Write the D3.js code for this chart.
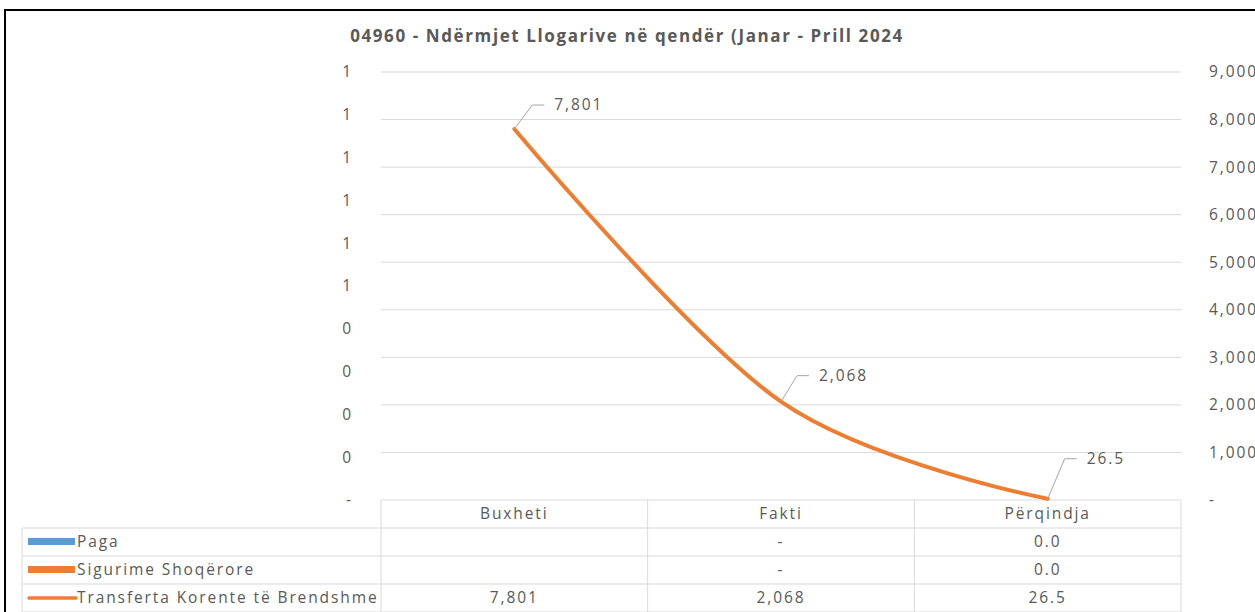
<!DOCTYPE html>
<html>
<head>
<meta charset="utf-8">
<script src="https://cdn.jsdelivr.net/npm/d3@7"></script>
<style>
  body { margin: 0; background: #fff; }
  svg text { font-family: "Open Sans", sans-serif; fill: #595959; }
</style>
</head>
<body>
<div id="chart"></div>
<script>
const title = '04960 - Ndërmjet Llogarive në qendër (Janar - Prill 2024'
const categories = ['Buxheti', 'Fakti', 'Përqindja']
const seriesNames = ['Paga', 'Sigurime Shoqërore', 'Transferta Korente të Brendshme']
const paga = [null, 0, 0.0]
const sigurime = [null, 0, 0.0]
const transferta = [7801, 2068, 26.5]
const tableText = [
    ['', '-', '0.0'],
    ['', '-', '0.0'],
    ['7,801', '2,068', '26.5']
]

const width = 1255
const height = 612
const plot = { left: 381, right: 1181, top: 72, bottom: 500 }
const rowH = 28
const tableLeft = 22
const blue = '#5B9BD5'
const orange = '#ED7D31'
const grid = '#D9D9D9'
const fs = 15.5
const ls = 1.9

const svg = d3.select('#chart')
    .append('svg')
    .attr('width', width)
    .attr('height', height)

// frame
svg.append('rect')
    .attr('x', 5).attr('y', 10)
    .attr('width', 1300).attr('height', 700)
    .attr('fill', 'none')
    .attr('stroke', '#000')
    .attr('stroke-width', 2)

svg.append('text')
    .attr('x', 627).attr('y', 42)
    .attr('text-anchor', 'middle')
    .attr('font-size', 17)
    .attr('letter-spacing', 1.6)
    .attr('font-weight', 'bold')
    .text(title)

// scales
const xScale = d3.scaleBand()
    .domain(categories)
    .range([plot.left, plot.right])
const yLeft = d3.scaleLinear().domain([0, 1]).range([plot.bottom, plot.top])
const yRight = d3.scaleLinear().domain([0, 9000]).range([plot.bottom, plot.top])

const dashZero = f => v => v === 0 ? '-' : f(v)

// gridlines
svg.append('g')
    .selectAll('line')
    .data(yRight.ticks(9).filter(d => d > 0))
    .enter()
    .append('line')
    .attr('x1', plot.left).attr('x2', plot.right)
    .attr('y1', d => yRight(d)).attr('y2', d => yRight(d))
    .attr('stroke', grid)

// left axis
const leftAxis = svg.append('g')
    .attr('transform', `translate(${plot.left - 25}, 0)`)
    .call(d3.axisLeft(yLeft).ticks(10).tickSize(0).tickFormat(dashZero(d3.format('.0f'))))
leftAxis.select('.domain').remove()
leftAxis.selectAll('text').attr('font-size', fs).attr('letter-spacing', ls)
    .attr('font-family', null).attr('fill', null)

// right axis
const rightAxis = svg.append('g')
    .attr('transform', `translate(${plot.right + 25}, 0)`)
    .call(d3.axisRight(yRight).ticks(9).tickSize(0).tickFormat(dashZero(d3.format(','))))
rightAxis.select('.domain').remove()
rightAxis.selectAll('text').attr('font-size', fs).attr('letter-spacing', ls)
    .attr('font-family', null).attr('fill', null)

// bars (primary axis, empty values)
const inner = d3.scaleBand().domain([0, 1]).range([0, xScale.bandwidth()]).padding(0.2)
;[paga, sigurime].forEach((vals, si) => {
    svg.append('g')
        .selectAll('rect')
        .data(vals)
        .enter()
        .append('rect')
        .attr('x', (d, i) => xScale(categories[i]) + inner(si))
        .attr('y', d => yLeft(d || 0))
        .attr('width', inner.bandwidth())
        .attr('height', d => plot.bottom - yLeft(d || 0))
        .attr('fill', si === 0 ? blue : orange)
})

// table grid
const tg = svg.append('g').attr('stroke', grid).attr('fill', 'none')
const colEdges = [plot.left].concat(categories.map(c => xScale(c) + xScale.bandwidth()))
tg.append('line')
    .attr('x1', plot.left).attr('x2', plot.right)
    .attr('y1', plot.bottom).attr('y2', plot.bottom)
for (let r = 1; r <= 4; r++) {
    tg.append('line')
        .attr('x1', tableLeft).attr('x2', plot.right)
        .attr('y1', plot.bottom + r * rowH).attr('y2', plot.bottom + r * rowH)
}
colEdges.forEach(x => {
    tg.append('line')
        .attr('x1', x).attr('x2', x)
        .attr('y1', plot.bottom).attr('y2', plot.bottom + 4 * rowH)
})
tg.append('line')
    .attr('x1', tableLeft).attr('x2', tableLeft)
    .attr('y1', plot.bottom + rowH).attr('y2', plot.bottom + 4 * rowH)

// header
svg.append('g')
    .selectAll('text')
    .data(categories)
    .enter()
    .append('text')
    .attr('x', d => xScale(d) + xScale.bandwidth() / 2)
    .attr('y', plot.bottom + rowH / 2 + 5)
    .attr('text-anchor', 'middle')
    .attr('font-size', fs)
    .attr('letter-spacing', ls)
    .text(d => d)

// rows
tableText.forEach((row, r) => {
    const cy = plot.bottom + rowH * (r + 1) + rowH / 2
    svg.append('g')
        .selectAll('text')
        .data(row)
        .enter()
        .append('text')
        .attr('x', (d, i) => xScale(categories[i]) + xScale.bandwidth() / 2)
        .attr('y', cy + 5)
        .attr('text-anchor', 'middle')
        .attr('font-size', fs)
        .attr('letter-spacing', ls)
        .text(d => d)
    // legend key
    if (r < 2) {
        svg.append('rect')
            .attr('x', 28).attr('y', cy - 4)
            .attr('width', 47).attr('height', 7)
            .attr('fill', r === 0 ? blue : orange)
    } else {
        svg.append('line')
            .attr('x1', 29).attr('x2', 76)
            .attr('y1', cy).attr('y2', cy)
            .attr('stroke', orange)
            .attr('stroke-width', 3.5)
            .attr('stroke-linecap', 'round')
    }
    svg.append('text')
        .attr('x', 77).attr('y', cy + 5)
        .attr('font-size', fs)
        .attr('letter-spacing', ls)
        .text(seriesNames[r])
})

// line (secondary axis)
const cx = (d, i) => xScale(categories[i]) + xScale.bandwidth() / 2
const line = d3.line()
    .x(cx)
    .y(d => yRight(d))
    .curve(d3.curveCardinal)
svg.append('path')
    .datum(transferta)
    .attr('d', line)
    .attr('fill', 'none')
    .attr('stroke', orange)
    .attr('stroke-width', 4)
    .attr('stroke-linecap', 'round')

// data labels with leader lines
const labelOffsets = [[18, -24], [16, -26], [17, -40]]
const fmt = d => d >= 100 ? d3.format(',')(d) : d3.format('.1f')(d)
transferta.forEach((d, i) => {
    const px = cx(d, i), py = yRight(d)
    const ex = px + labelOffsets[i][0], ey = py + labelOffsets[i][1]
    svg.append('polyline')
        .attr('points', `${px},${py} ${ex},${ey} ${ex + 12},${ey}`)
        .attr('fill', 'none')
        .attr('stroke', '#A6A6A6')
        .attr('stroke-width', 1)
    svg.append('text')
        .attr('x', ex + 22).attr('y', ey + 5)
        .attr('font-size', fs)
        .attr('letter-spacing', ls)
        .text(fmt(d))
})
</script>
</body>
</html>
